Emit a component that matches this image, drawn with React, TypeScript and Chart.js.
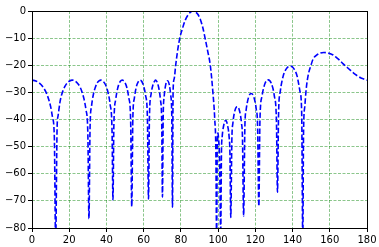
import React, { useEffect, useRef } from "react";
import { Chart, registerables } from "chart.js";

Chart.register(...registerables);

// Angle (degrees)
const angles = [
  0, 2, 4, 6, 8, 10, 11, 12, 12.7,
  13.5, 14, 15, 16, 17, 18, 19, 20, 21.6, 23, 24, 25, 26, 27, 28, 29, 30, 30.6,
  31.2, 32, 33, 34, 35, 36, 37.05, 38, 39, 40, 41, 42, 43, 43.5,
  44, 45, 46, 47, 48, 48.55, 49, 50, 51, 52, 53, 53.6,
  54.2, 55, 56, 57, 58.1, 59, 60, 61, 62, 62.6,
  63.1, 64, 65, 66, 66.35, 67, 68, 69, 69.7, 70.1,
  70.5, 71, 71.8, 72.8, 73.8, 74.5, 75.1, 75.5,
  75.8, 76.4, 77.2, 78.2, 79.4, 80.7, 82.2, 83.8, 85.2, 86.5, 87.8, 89.2, 90.5, 91.8, 93, 94.4, 95.8, 97.2, 98.2, 98.8, 99.2,
  99.55, 99.9, 100.3, 100.8, 101.4,
  101.8, 102.2, 102.7, 104.05, 105.4, 105.9, 106.34, 106.8,
  107.4, 107.95, 109.1, 110.25, 111.4, 112.55, 113.1, 113.7,
  114.4, 115.07, 116.43, 117.8, 119.17, 120.53, 121.2, 121.9,
  122.46, 123.57, 125.23, 126.9, 128.57, 130.23, 131.34, 131.9,
  132.5, 133.41, 134.92, 136.81, 138.7, 140.59, 142.48, 143.99, 144.9, 145.5,
  145.9, 146.6, 147.3, 148.3, 149.9, 151.1, 152.9, 155, 156.8, 159, 161.8, 163.5, 165.4, 167.2, 169, 171, 172.8, 174.4, 176.5, 178.3, 180,
];

// Gain (dB)
const gainDb = [
  -25.5, -25.8, -26.6, -28.1, -30.7, -35.2, -39.1, -46.5, -85,
  -42.6, -38.7, -33.7, -30.7, -28.8, -27.4, -26.5, -25.9, -25.5, -25.75, -26.3, -27.1, -28.3, -30.1, -32.6, -36.4, -45.1, -76.6,
  -42.8, -35, -30.7, -28.2, -26.6, -25.8, -25.5, -25.8, -26.6, -28.0, -30.5, -34.5, -43.9, -69.6,
  -41.7, -32.5, -28.6, -26.5, -25.6, -25.5, -25.6, -26.4, -28.3, -32, -40.1, -72.1,
  -39.1, -32.1, -28.1, -26.2, -25.5, -26.0, -27.7, -31.0, -39.1, -69.3,
  -39.1, -30.6, -27.2, -25.75, -25.5, -25.9, -28.0, -32.6, -41.1, -68.6,
  -38.5, -31.7, -27.3, -25.7, -27.3, -30.9, -38.5, -72.3,
  -30, -25, -20, -14.8, -10, -6.8, -3.6, -1.5, -0.4, 0, -0.3, -1.3, -3.2, -6.2, -10, -14.8, -20, -30, -40, -52, -85,
  -48, -45, -47.5, -55, -82,
  -52, -46.3, -43.3, -40.3, -43.3, -46.3, -52, -76.1,
  -47, -41.3, -36.55, -35.3, -36.55, -41.3, -47, -75.6,
  -42.1, -36.4, -31.65, -30.4, -31.65, -36.4, -42.1, -72,
  -40.6, -31.4, -26.65, -25.4, -26.65, -31.4, -40.6, -66.8,
  -37.4, -29.6, -24.1, -21.15, -20.3, -21.15, -24.1, -29.6, -37.4, -85,
  -45, -35, -29, -24, -20, -17.6, -16.3, -15.5, -15.3, -15.5, -16.2, -17.1, -18.2, -19.5, -20.6, -21.8, -22.9, -23.7, -24.6, -25.1, -25.5,
];

const xTicks = [0, 20, 40, 60, 80, 100, 120, 140, 160, 180];
const yTicks = [-80, -70, -60, -50, -40, -30, -20, -10, 0];

const tickFont = { family: "DejaVu Sans", size: 10 };
const gridColor = "rgba(0,128,0,0.45)";

export default function App() {
  const ref = useRef<HTMLCanvasElement>(null);

  useEffect(() => {
    document.body.style.margin = "0";
    const frame = {
      id: "frame",
      afterDraw(chart: any) {
        const { ctx, chartArea } = chart;
        const { left, top, right, bottom } = chartArea;
        ctx.save();
        ctx.strokeStyle = "#000";
        ctx.lineWidth = 1;
        ctx.strokeRect(Math.round(left) + 0.5, Math.round(top) + 0.5, Math.round(right - left), Math.round(bottom - top));
        ctx.restore();
      },
    };
    const chart = new Chart(ref.current as HTMLCanvasElement, {
      type: "line",
      data: {
        datasets: [
          {
            data: angles.map((a, i) => ({ x: a, y: gainDb[i] })),
            borderColor: "#0000ff",
            borderWidth: 1.6,
            borderDash: [5.5, 2.4],
            pointRadius: 0,
            fill: false,
            cubicInterpolationMode: "monotone",
          },
        ],
      },
      options: {
        animation: false,
        responsive: false,
        devicePixelRatio: 1,
        layout: { padding: { top: 11, right: 12, left: 0, bottom: 0 } },
        plugins: { legend: { display: false }, tooltip: { enabled: false } },
        scales: {
          x: {
            type: "linear",
            min: 0,
            max: 180,
            afterBuildTicks: (s: any) => {
              s.ticks = xTicks.map((v) => ({ value: v }));
            },
            afterFit: (s: any) => {
              s.height = 19;
            },
            grid: {
              color: gridColor,
              lineWidth: 1,
              drawTicks: true,
              tickLength: 4,
              tickColor: "#000",
              tickWidth: 1,
              tickBorderDash: [],
            },
            border: { display: false, dash: [3, 1.5] },
            ticks: {
              font: tickFont,
              color: "#000",
              padding: 2,
              maxRotation: 0,
              autoSkip: false,
              callback: (v: any) => String(v),
            },
          },
          y: {
            type: "linear",
            min: -80,
            max: 0,
            afterBuildTicks: (s: any) => {
              s.ticks = yTicks.map((v) => ({ value: v }));
            },
            afterFit: (s: any) => {
              s.width = 32;
            },
            grid: {
              color: gridColor,
              lineWidth: 1,
              drawTicks: true,
              tickLength: 4,
              tickColor: "#000",
              tickWidth: 1,
              tickBorderDash: [],
            },
            border: { display: false, dash: [3, 1.5] },
            ticks: {
              font: tickFont,
              color: "#000",
              padding: 2,
              autoSkip: false,
              callback: (v: any) => String(v).replace("-", "\u2212"),
            },
          },
        },
      },
      plugins: [frame],
    } as any);
    return () => chart.destroy();
  }, []);

  return (
    <div style={{ width: 379, height: 247 }}>
      <canvas ref={ref} width={379} height={247} style={{ display: "block" }} />
    </div>
  );
}
